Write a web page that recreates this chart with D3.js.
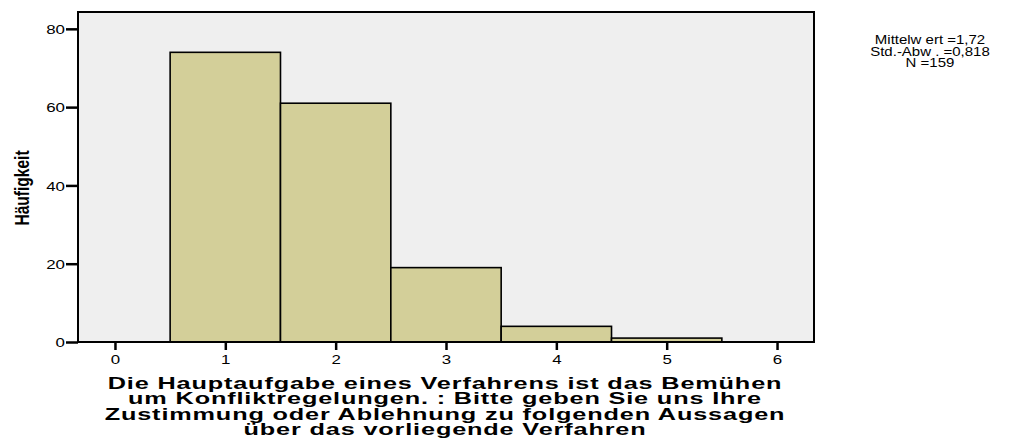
<!DOCTYPE html>
<html><head><meta charset="utf-8">
<script src="https://cdn.jsdelivr.net/npm/d3@7"></script>
<style>body{margin:0;background:#fff}svg{display:block}</style>
</head><body>
<script>
const binStarts = [0.5, 1.5, 2.5, 3.5, 4.5];
const counts = [74, 61, 19, 4, 1];
const xTicks = [0, 1, 2, 3, 4, 5, 6];
const yTicks = [0, 20, 40, 60, 80];
const titleLines = ["Die Hauptaufgabe eines Verfahrens ist das Bemühen", "um Konfliktregelungen. : Bitte geben Sie uns Ihre", "Zustimmung oder Ablehnung zu folgenden Aussagen", "über das vorliegende Verfahren"];
const statsLines = ["Mittelw ert =1,72", "Std.-Abw . =0,818", "N =159"];

const W = 1026, H = 441;
const svg = d3.select("body").append("svg").attr("width", W).attr("height", H);
const L = 78, R = 814, T = 12, B = 342;
const x = d3.scaleLinear().domain([-0.335, 6.335]).range([L, R]);
const y = d3.scaleLinear().domain([0, 84.3]).range([B, T]);
const font = "'Liberation Sans', Arial, sans-serif";

svg.append("rect").attr("x", L).attr("y", T).attr("width", R - L).attr("height", B - T).attr("fill", "#efefef");

svg.selectAll("rect.bar").data(counts).enter().append("rect").attr("class", "bar")
  .attr("x", (d, i) => x(binStarts[i]))
  .attr("width", (d, i) => x(binStarts[i] + 1) - x(binStarts[i]))
  .attr("y", d => y(d)).attr("height", d => B - y(d))
  .attr("fill", "#d3cf99").attr("stroke", "#000").attr("stroke-width", 1.6);

svg.append("rect").attr("x", L).attr("y", T).attr("width", R - L).attr("height", B - T)
  .attr("fill", "none").attr("stroke", "#000").attr("stroke-width", 2);

const sx = 1.3;
const yAxis = svg.append("g").attr("transform", `translate(${L},0)`)
  .call(d3.axisLeft(y).tickValues(yTicks).tickFormat(d3.format("d")).tickSize(12).tickPadding(1));
yAxis.select(".domain").remove();
yAxis.selectAll("line").attr("stroke", "#000").attr("stroke-width", 2.5);
yAxis.selectAll("text").attr("font-family", font).attr("font-size", 13).attr("fill", "#000")
  .attr("x", -13 / sx).attr("dy", "0.36em").attr("transform", `scale(${sx},1)`);

const xAxis = svg.append("g").attr("transform", `translate(0,${B})`)
  .call(d3.axisBottom(x).tickValues(xTicks).tickFormat(d3.format("d")).tickSize(8).tickPadding(5));
xAxis.select(".domain").remove();
xAxis.selectAll("line").attr("stroke", "#000").attr("stroke-width", 2.5);
xAxis.selectAll("text").attr("font-family", font).attr("font-size", 13).attr("fill", "#000")
  .attr("transform", `scale(${sx},1)`);

svg.append("text").attr("transform", "translate(29,188) rotate(-90) scale(0.74,1)")
  .attr("text-anchor", "middle").attr("font-family", font).attr("font-weight", "bold")
  .attr("font-size", 21).text("Häufigkeit");

const tg = svg.append("g");
const tl = titleLines.map((t, i) => tg.append("text").attr("text-anchor", "middle")
    .attr("font-family", font).attr("font-weight", "bold").attr("font-size", 14.8)
    .attr("letter-spacing", "0.5px").text(t));
const w0 = tl[0].node().getComputedTextLength();
const ts = 675 / w0;
tl.forEach((t, i) => t.attr("transform", `translate(445,${389 + i * 15.4}) scale(${ts},1.08)`));

statsLines.forEach((t, i) => {
  svg.append("text").attr("transform", `translate(930,${44 + i * 11.6}) scale(1.2,1)`).attr("text-anchor", "middle")
    .attr("font-family", font).attr("font-size", 12.5).text(t);
});
</script>
</body></html>
